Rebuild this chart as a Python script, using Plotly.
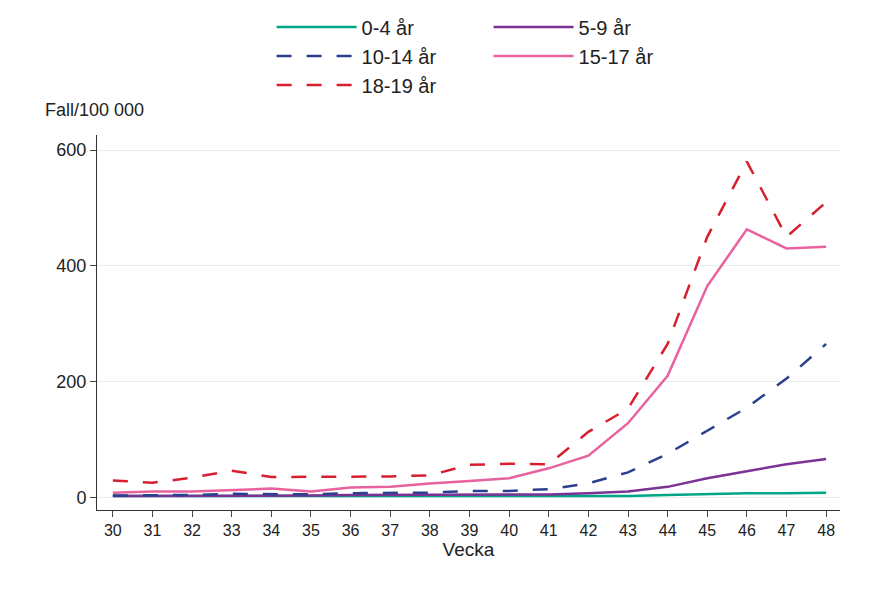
import plotly.graph_objects as go

weeks = list(range(30, 49))
age_0_4 = [2, 2, 2, 2, 2, 2, 2, 2, 2, 2, 2, 2, 2, 2, 4, 6, 7, 7, 8]
age_5_9 = [2, 2, 3, 3, 3, 3, 4, 4, 4, 5, 5, 5, 7, 10, 18, 33, 45, 57, 66]
age_10_14 = [3, 3, 4, 6, 5, 5, 7, 8, 8, 11, 11, 14, 24, 43, 75, 115, 155, 205, 265]
age_15_17 = [8, 10, 10, 12, 15, 10, 17, 18, 24, 28, 33, 50, 72, 128, 210, 365, 463, 430, 433]
age_18_19 = [29, 25, 34, 46, 35, 35, 35, 36, 38, 56, 58, 57, 113, 153, 265, 450, 580, 450, 510]

# (name, values, colour, dash, legend column)
series = [
    ("0-4 år", age_0_4, "#00a585", "solid", "legend"),
    ("5-9 år", age_5_9, "#7b3294", "solid", "legend2"),
    ("10-14 år", age_10_14, "#2b3f8f", "longdash", "legend"),
    ("15-17 år", age_15_17, "#e8629e", "solid", "legend2"),
    ("18-19 år", age_18_19, "#d6202f", "longdash", "legend"),
]

fig = go.Figure()
for name, vals, col, dash, leg in series:
    fig.add_trace(go.Scatter(x=weeks, y=vals, name=name, mode="lines", legend=leg,
                             line=dict(color=col, width=2.5, dash=dash)))

leg_style = dict(orientation="v", xanchor="left", y=1.34, yanchor="top",
                 tracegroupgap=0, font=dict(size=20), itemwidth=80, bgcolor="rgba(0,0,0,0)")
fig.update_layout(
    width=883, height=594,
    plot_bgcolor="white", paper_bgcolor="white",
    font=dict(family="Liberation Sans, Arial", size=17, color="#222"),
    margin=dict(l=89, r=51, t=127, b=92, autoexpand=False),
    legend=dict(x=0.235, **leg_style),
    legend2=dict(x=0.527, **leg_style),
    annotations=[dict(text="Fall/100 000", xref="paper", yref="paper", x=-0.073, y=1.035,
                      xanchor="left", yanchor="bottom", showarrow=False, font=dict(size=18))],
)
fig.update_xaxes(range=[29.6, 48.35], tickmode="array", tickvals=weeks, showline=True,
                 linecolor="#333", ticks="outside", ticklen=6, showgrid=False,
                 tickfont=dict(size=16), title=dict(text="Vecka", font=dict(size=19), standoff=4))
fig.update_yaxes(range=[-22, 626], tickvals=[0, 200, 400, 600], showline=True,
                 linecolor="#333", ticks="outside", ticklen=6, gridcolor="#e8eef0",
                 zeroline=False, tickfont=dict(size=18))
fig.write_html("out.html")
